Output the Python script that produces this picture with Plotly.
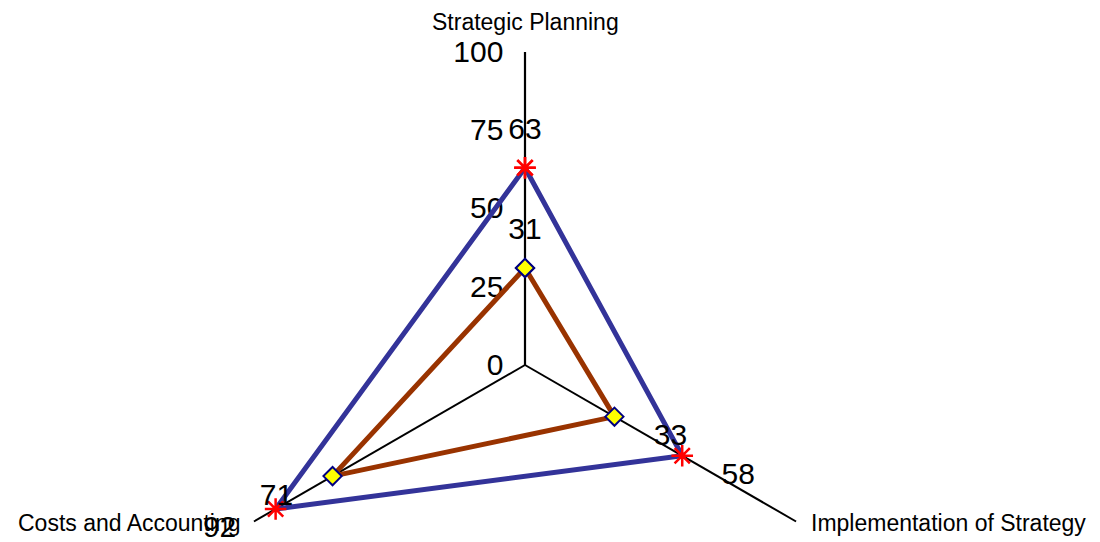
import plotly.graph_objects as go

categories = ['Strategic Planning', 'Implementation of Strategy', 'Costs and Accounting']
series_a = [63, 58, 92]
series_b = [31, 33, 71]
radial_ticks = [0, 25, 50, 75, 100]

# close the polygons by repeating the first point
theta = categories + categories[:1]

NB = '\u00a0' * 4
label_pos = ['top center', 'bottom right', 'bottom left']


def pad(vals):
    # push the value labels sideways on the two lower spokes
    return [str(vals[0]), NB + str(vals[1]), str(vals[2]) + NB]


fig = go.Figure()

fig.add_trace(go.Scatterpolar(
    r=series_a + series_a[:1], theta=theta, mode='lines+markers',
    line=dict(color='#333399', width=5),
    marker=dict(symbol='asterisk-open', size=18, color='red', line=dict(color='red', width=2.5)),
    showlegend=False, hoverinfo='skip',
))

fig.add_trace(go.Scatterpolar(
    r=series_b + series_b[:1], theta=theta, mode='lines+markers',
    line=dict(color='#993300', width=5),
    marker=dict(symbol='diamond', size=14, color='yellow', line=dict(color='#000080', width=2)),
    showlegend=False, hoverinfo='skip',
))

# value labels (invisible markers just set the text offset)
for vals in (series_a, series_b):
    fig.add_trace(go.Scatterpolar(
        r=vals, theta=categories, mode='markers+text',
        text=pad(vals), textposition=label_pos,
        textfont=dict(family='Arial', size=30, color='black'),
        marker=dict(size=[33, 8, 8], opacity=0),
        showlegend=False, hoverinfo='skip',
    ))

# category labels
fig.add_annotation(text=categories[0], xref='paper', yref='paper', x=0.5, y=1.048,
                   xanchor='center', yanchor='middle', showarrow=False)
fig.add_annotation(text=categories[1], xref='paper', yref='paper', x=0.9537, y=0.2476,
                   xanchor='left', yanchor='middle', showarrow=False)
fig.add_annotation(text=categories[2], xref='paper', yref='paper', x=-0.3131, y=0.2476,
                   xanchor='left', yanchor='middle', showarrow=False)

fig.update_annotations(font=dict(family='Arial', size=23, color='black'))

fig.update_layout(
    width=1100, height=698,
    margin=dict(l=212, r=262, t=52, b=20),
    paper_bgcolor='white',
    polar=dict(
        bgcolor='white',
        domain=dict(x=[0, 1], y=[0, 1]),
        radialaxis=dict(
            range=[0, 100], tickvals=radial_ticks,
            angle=90, side='counterclockwise', tickangle=90,
            showline=True, linecolor='black', linewidth=2.2,
            showgrid=False, ticks='outside', ticklen=10, tickcolor='rgba(0,0,0,0)',
            layer='below traces',
            tickfont=dict(family='Arial', size=30, color='black'),
        ),
        angularaxis=dict(
            type='category', categoryarray=categories,
            rotation=90, direction='clockwise',
            showline=False, showgrid=True, gridcolor='black', gridwidth=2.2,
            ticks='', showticklabels=False, layer='below traces',
        ),
    ),
)

fig.write_html("out.html", config={'displayModeBar': False},
               post_script="document.body.style.margin='0';"
                           "document.documentElement.style.overflow='hidden';"
                           "document.body.style.overflow='hidden';")
